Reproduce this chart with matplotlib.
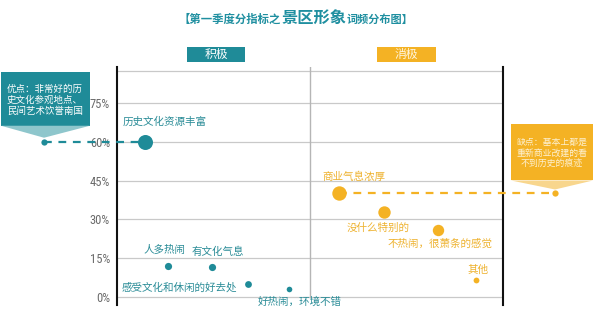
import matplotlib
matplotlib.use("Agg")
import matplotlib.pyplot as plt
from matplotlib import font_manager as fm
from matplotlib.patches import Rectangle, Polygon
from matplotlib.transforms import IdentityTransform

plt.rcParams['font.family'] = ['Noto Sans CJK SC', 'DejaVu Sans']

# ---- data -------------------------------------------------------------
pos_terms = ["历史文化资源丰富", "人多热闹", "有文化气息", "感受文化和休闲的好去处", "好热闹，环境不错"]
pos_share = [60, 12, 11.5, 5, 3]
neg_terms = ["商业气息浓厚", "没什么特别的", "不热闹，很萧条的感觉", "其他"]
neg_share = [40, 33, 26, 6.5]
y_ticks = [0, 15, 30, 45, 60, 75]
y_tick_labels = ["0%", "15%", "30%", "45%", "60%", "75%"]
group_names = ["积极", "消极"]
title_parts = ["【第一季度分指标之", "景区形象", "词频分布图】"]
pros_note = ["优点：非常好的历", "史文化参观地点、", "民间艺术饮誉南国"]
cons_note = ["缺点：基本上都是", "重新商业改建的看", "不到历史的痕迹"]

# ---- layout / style ---------------------------------------------------
pos_x = [7.3, 13.2, 24.6, 33.9, 44.6]
neg_x = [57.5, 69.2, 83.2, 93.0]
pos_r = [7.5, 3.6, 3.6, 3.4, 2.8]       # dot radius, px
neg_r = [7.2, 6.2, 5.7, 2.9]
# label offsets in pixels (dx, dy, ha)
pos_off = [(-23, 20, 'left'), (-3, 16, 'center'), (6, 15, 'center'),
           (-11, -3, 'right'), (11, -12, 'center')]
neg_off = [(15, 17, 'center'), (-6, -16, 'center'), (2, -14, 'center'),
           (2, 10, 'center')]

TEAL = '#1f8b98'
TEAL_TXT = '#2a8c97'
TEAL_LIGHT = '#8ec6cc'
ORANGE = '#f4b224'
ORANGE_TXT = '#eeb22f'
ORANGE_LIGHT = '#f8d68d'
GRID = '#c9c9c9'


def narrow_font(size):
    """Pick a condensed sans face for the percentage ticks."""
    names = ('Liberation Sans Narrow', 'Roboto Condensed', 'Open Sans Condensed',
             'Noto Sans Condensed')
    for f in fm.fontManager.ttflist:
        if f.name in names and f.weight in (400, 'normal', 'regular') and f.style == 'normal':
            return fm.FontProperties(fname=f.fname, size=size)
    for f in fm.fontManager.ttflist:
        base = f.fname.split('/')[-1]
        if base == 'DejaVuSansCondensed.ttf':
            return fm.FontProperties(fname=f.fname, size=size)
    return fm.FontProperties(family='Roboto', size=size - 0.5)


W, H = 600, 322
fig = plt.figure(figsize=(W / 100, H / 100), dpi=100)
fig.patch.set_facecolor('white')
PX = IdentityTransform()


def Y(py):
    return H - py


ax = fig.add_axes([117 / W, 1 - 305 / H, 386 / W, 238.3 / H])
ax.set_xlim(0, 100)
ax.set_ylim(-3.1, 89)
ax.set_facecolor('white')

for s in ['top', 'bottom']:
    ax.spines[s].set_visible(False)
for s in ['left', 'right']:
    ax.spines[s].set_color('#111111')
    ax.spines[s].set_linewidth(1.5)

for yv in y_ticks + [87.5]:
    ax.axhline(yv, color=GRID, lw=0.9, zorder=1)
ax.plot([50, 50], [0, 89], color='#b5b5b5', lw=1.0, zorder=1)

ax.set_xticks([])
ax.set_yticks(y_ticks)
ax.set_yticklabels(y_tick_labels, fontproperties=narrow_font(9), color='#6a6a6a')
ax.tick_params(axis='y', length=0, pad=5)


def ms(r):
    return 2 * r * 0.72


for x, v, r, t, (dx, dy, ha) in zip(pos_x, pos_share, pos_r, pos_terms, pos_off):
    ax.plot(x, v, 'o', ms=ms(r), color=TEAL, mec='none', zorder=4)
    ax.annotate(t, (x, v), xytext=(dx, dy), textcoords='offset pixels',
                ha=ha, va='center', fontsize=7.6, color=TEAL_TXT, zorder=5)

for x, v, r, t, (dx, dy, ha) in zip(neg_x, neg_share, neg_r, neg_terms, neg_off):
    ax.plot(x, v, 'o', ms=ms(r), color=ORANGE, mec='none', zorder=4)
    ax.annotate(t, (x, v), xytext=(dx, dy), textcoords='offset pixels',
                ha=ha, va='center', fontsize=7.6, color=ORANGE_TXT, zorder=5)

fig.canvas.draw()

# ---- group header boxes ----------------------------------------------
for (x0, x1), name, col, tcol in [((187, 245), group_names[0], TEAL, 'white'),
                                  ((377, 436), group_names[1], ORANGE, '#fff6e0')]:
    fig.patches.append(Rectangle((x0, Y(62)), x1 - x0, 15, transform=PX,
                                 facecolor=col, edgecolor='none'))
    fig.text((x0 + x1) / 2, Y(54.5), name, transform=PX, ha='center', va='center',
             fontsize=8.5, color=tcol)

# ---- call-outs --------------------------------------------------------
top_pos = ax.transData.transform((pos_x[0], pos_share[0]))
top_neg = ax.transData.transform((neg_x[0], neg_share[0]))

# left (pros)
ly = top_pos[1]
ax_dot_l = 44
fig.patches.append(Rectangle((1, ly + 16), 89, 54, transform=PX,
                             facecolor=TEAL, edgecolor='none'))
fig.patches.append(Polygon([(1, ly + 16), (90, ly + 16), (ax_dot_l, ly + 4)],
                           closed=True, transform=PX, facecolor=TEAL_LIGHT,
                           edgecolor='none'))
for i, line in enumerate(pros_note):
    fig.text(45, ly + 53 - i * 11, line, transform=PX, ha='center', va='center',
             fontsize=6.8, color='white')
fig.add_artist(plt.Line2D([ax_dot_l, top_pos[0]], [ly, ly], transform=PX,
                          color=TEAL, lw=1.6, ls=(0, (3.5, 3))))
fig.add_artist(plt.Line2D([ax_dot_l], [ly], transform=PX, marker='o', ms=4.5,
                          color=TEAL, mec='none'))

# right (cons)
ry = top_neg[1]
ax_dot_r = 555
fig.patches.append(Rectangle((511, ry + 13), 82, 56, transform=PX,
                             facecolor=ORANGE, edgecolor='none'))
fig.patches.append(Polygon([(511, ry + 13), (593, ry + 13), (ax_dot_r, ry + 4)],
                           closed=True, transform=PX, facecolor=ORANGE_LIGHT,
                           edgecolor='none'))
for i, line in enumerate(cons_note):
    fig.text(552, ry + 51 - i * 10.8, line, transform=PX, ha='center', va='center',
             fontsize=6.4, color='#fdf1d2')
fig.add_artist(plt.Line2D([top_neg[0], ax_dot_r], [ry, ry], transform=PX,
                          color=ORANGE, lw=1.6, ls=(0, (3.5, 3))))
fig.add_artist(plt.Line2D([ax_dot_r], [ry], transform=PX, marker='o', ms=4.5,
                          color=ORANGE, mec='none'))

# ---- title ------------------------------------------------------------
t1 = fig.text(179, Y(26), title_parts[0], transform=PX, ha='left', va='bottom',
              fontsize=8.2, fontweight='bold', color='#1f8fa0')
t2 = fig.add_artist(plt.Annotation(title_parts[1], xy=(1, 0), xycoords=t1,
                                   ha='left', va='bottom', fontsize=11.7,
                                   fontweight='bold', color='#1f8fa0'))
t3 = fig.add_artist(plt.Annotation(title_parts[2], xy=(1, 0), xycoords=t2,
                                   ha='left', va='bottom', fontsize=8.0,
                                   fontweight='bold', color='#1f8fa0'))

fig.savefig('out.png', dpi=100, facecolor='white')
